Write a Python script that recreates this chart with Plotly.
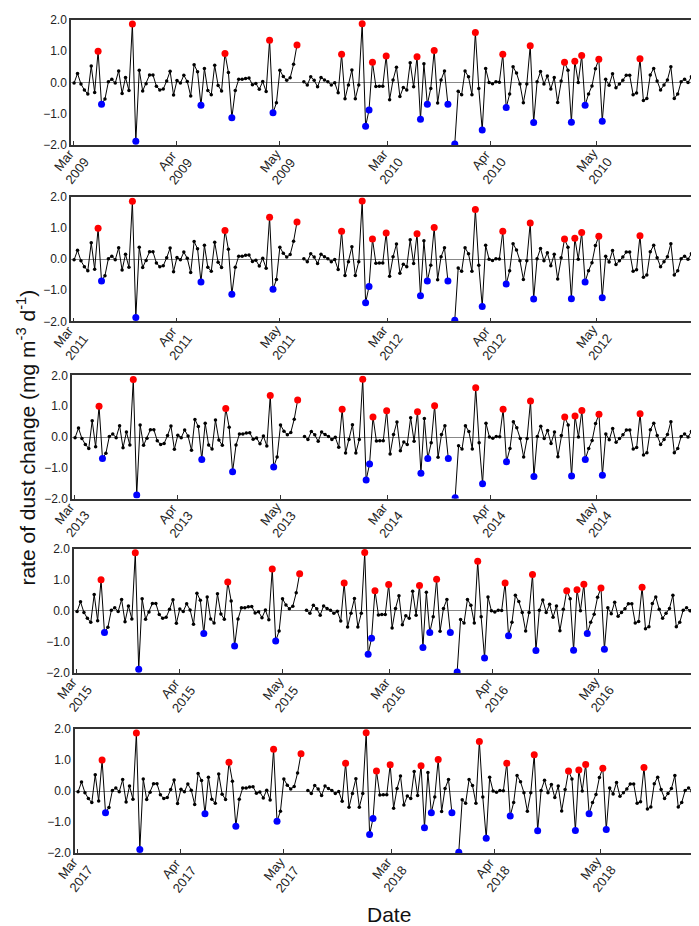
import plotly.graph_objects as go
from plotly.subplots import make_subplots

# daily rate of dust change, Mar-May of two consecutive seasons (None = no data)
dust_rate = [
    -0.02, 0.29, -0.05, -0.24, -0.37, 0.53, -0.32, 1.00, -0.70, -0.53,
    0.02, 0.10, -0.02, 0.37, -0.35, 0.16, -0.26, 1.87, -1.88, 0.39,
    -0.27, -0.04, 0.24, 0.24, -0.12, -0.24, -0.21, 0.05, 0.36, -0.40,
    0.06, -0.02, 0.23, 0.03, -0.43, 0.57, 0.34, -0.73, 0.45, -0.26,
    -0.39, 0.55, -0.10, -0.27, 0.93, 0.32, -1.13, -0.26, 0.10, 0.10,
    0.13, 0.14, -0.07, -0.03, -0.22, 0.03, -0.29, 1.35, -0.97, -0.65,
    0.39, 0.19, 0.07, 0.15, 0.58, 1.20, None, 0.02, -0.08, 0.18,
    0.07, -0.14, 0.16, 0.08, 0.02, -0.08, -0.01, -0.33, 0.90, -0.52,
    -0.08, 0.40, -0.52, -0.08, 1.88, -1.40, -0.88, 0.65, -0.13, -0.12,
    -0.12, 0.85, -0.55, 0.08, 0.49, -0.45, -0.16, -0.24, 0.63, -0.14,
    0.82, -1.18, 0.60, -0.70, -0.19, 1.02, -0.66, 0.08, 0.37, -0.70,
    None, -1.97, -0.28, -0.39, 0.37, 0.18, -0.39, 1.60, -0.19, -1.52,
    0.45, 0.00, -0.04, 0.02, 0.01, 0.90, -0.80, -0.37, 0.50, 0.30,
    -0.05, -0.65, -0.05, 1.17, -1.28, 0.02, 0.35, -0.05, 0.21, -0.21,
    0.16, -0.64, 0.05, 0.65, 0.39, -1.27, 0.68, 0.00, 0.86, -0.73,
    -0.37, -0.11, 0.44, 0.74, -1.24, 0.10, -0.09, 0.28, -0.17, -0.05,
    0.07, 0.23, 0.23, -0.39, -0.34, 0.76, -0.58, -0.51, 0.24, 0.45,
    0.05, -0.24, -0.08, 0.08, 0.50, -0.51, -0.37, 0.02, 0.10, 0.00,
    0.18, -0.39, 0.07,
]
days = list(range(len(dust_rate)))

# highlighted extremes
peak_days = [7, 17, 44, 57, 65, 78, 84, 87, 91, 100, 105, 117, 125, 133,
             143, 146, 148, 153, 165]
trough_days = [8, 18, 37, 46, 58, 85, 86, 101, 103, 109, 111, 119, 126, 134,
               145, 149, 154]

# each panel shows two seasons
first_years = [2009, 2011, 2013, 2015, 2017]
months = ["Mar", "Apr", "May"]
tick_days = [-0.3, 30, 60, 91.3, 121.3, 152.2]

W, H = 699, 926
X_RANGE = [-0.9, 182.5]
# panel boxes in pixels: left, right, top, bottom
boxes = [
    (63, 692, 5, 132),
    (63, 692, 185, 311),
    (64, 692, 366, 491),
    (66, 694, 542, 668),
    (67, 696, 725, 851),
]

FONT = "Liberation Sans, Arial, Helvetica, sans-serif"

fig = make_subplots(rows=5, cols=1)

for n, year in enumerate(first_years, start=1):
    fig.add_trace(
        go.Scatter(x=days, y=dust_rate, mode="lines+markers",
                   line=dict(color="black", width=1),
                   marker=dict(color="black", size=3.5),
                   connectgaps=False, showlegend=False),
        row=n, col=1,
    )
    fig.add_trace(
        go.Scatter(x=peak_days, y=[dust_rate[d] for d in peak_days],
                   mode="markers", marker=dict(color="#ff0000", size=7),
                   showlegend=False),
        row=n, col=1,
    )
    fig.add_trace(
        go.Scatter(x=trough_days, y=[dust_rate[d] for d in trough_days],
                   mode="markers", marker=dict(color="#0000ff", size=7),
                   showlegend=False),
        row=n, col=1,
    )

    left, right, top, bottom = boxes[n - 1]
    sfx = "" if n == 1 else str(n)
    fig.update_layout({
        f"xaxis{sfx}": dict(
            domain=[left / W, right / W], range=X_RANGE,
            tickvals=tick_days, showticklabels=False,
            ticks="inside", ticklen=4, tickcolor="#333",
            showline=True, linecolor="#333", linewidth=1.5, mirror=True,
            showgrid=False, zeroline=False,
        ),
        f"yaxis{sfx}": dict(
            domain=[1 - bottom / H, 1 - top / H], range=[-2, 2],
            tickvals=[-2, -1, 0, 1, 2], tickformat=".1f", ticks="",
            tickfont=dict(family=FONT, size=12, color="#222"),
            showline=True, linecolor="#333", linewidth=1.5, mirror=True,
            showgrid=False, zeroline=True, zerolinecolor="#888",
            zerolinewidth=1,
        ),
    })

    # rotated two-line date labels under the ticks (placed in paper space so
    # the first one, sitting at the left frame, is not clipped)
    labels = [f"{m}<br>{year}" for m in months] + [f"{m}<br>{year + 1}" for m in months]
    px_per_day = (right - left) / (X_RANGE[1] - X_RANGE[0])
    for tv, lab in zip(tick_days, labels):
        px = left + (tv - X_RANGE[0]) * px_per_day - 3
        py = bottom + 21
        fig.add_annotation(
            x=px / W, y=1 - py / H, xref="paper", yref="paper",
            text=lab, textangle=-52, showarrow=False, align="center",
            xanchor="center", yanchor="middle",
            font=dict(family=FONT, size=13, color="#222"),
        )

fig.add_annotation(
    x=18 / W, y=1 - 429 / H, xref="paper", yref="paper",
    text="rate of dust change (mg m<sup>-3</sup> d<sup>-1</sup>)",
    textangle=-90, showarrow=False, xanchor="center", yanchor="middle",
    font=dict(family=FONT, size=21, color="#111"),
)
fig.add_annotation(
    x=381 / W, y=1 - 913 / H, xref="paper", yref="paper",
    text="Date", showarrow=False, xanchor="center", yanchor="middle",
    font=dict(family=FONT, size=21, color="#111"),
)

fig.update_layout(
    width=W, height=H,
    margin=dict(l=0, r=0, t=0, b=0),
    paper_bgcolor="white", plot_bgcolor="white",
    font=dict(family=FONT),
)

fig.write_html("out.html")
